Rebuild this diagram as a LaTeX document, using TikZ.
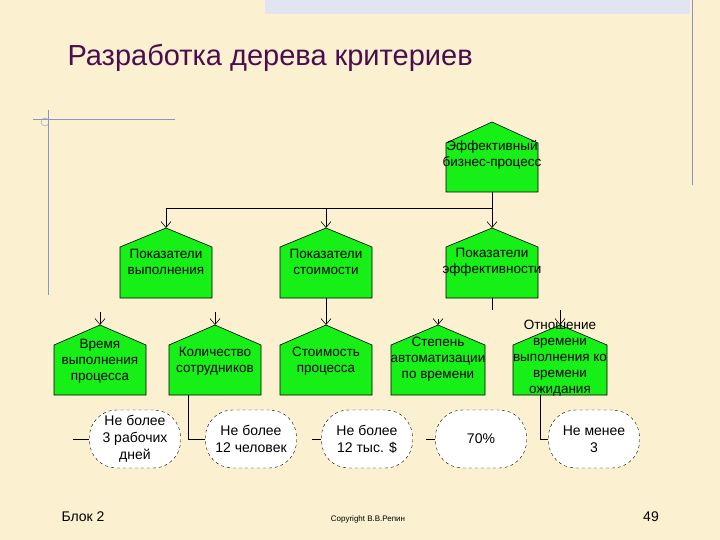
\documentclass[tikz,border=0pt]{standalone}
\usepackage{fontspec}
\setmainfont{Liberation Sans}
\usetikzlibrary{arrows.meta}
\definecolor{bg}{HTML}{FBF0CF}
\definecolor{ttl}{HTML}{4A0E4E}
\definecolor{grn}{HTML}{16F016}
\definecolor{frame}{HTML}{8A96C8}
\tikzset{x=1pt,y=-1pt,
 hs/.style={draw=black,fill=grn,line width=0.6pt},
 lbl/.style={align=center,font=\fontsize{13.5}{16}\selectfont,inner sep=0pt},
 oval/.style={draw=black,dashed,fill=white,rounded corners=27pt,minimum width=91pt,minimum height=58pt,align=center,font=\fontsize{14}{17}\selectfont,inner sep=0pt},
 con/.style={line width=0.7pt},
 arr/.style={line width=0.6pt,-{Straight Barb[length=6pt,width=10pt]}}}
% name, cx, apex, eave, bottom, halfwidth
\newcommand\house[6]{%
 \draw[hs] (#2-#6,#5) -- (#2-#6,#4) -- (#2,#3) -- (#2+#6,#4) -- (#2+#6,#5) -- cycle;
 \coordinate (#1t) at (#2,#3); \coordinate (#1b) at (#2,#5);}
\begin{document}
\begin{tikzpicture}
\fill[bg] (0,0) rectangle (720,540);
\useasboundingbox (0,0) rectangle (720,540);
\fill[frame!25] (265,0) rectangle (690,14);
\draw[frame] (692,0) -- (692,185);
\draw[frame] (33,119) -- (175,119);
\draw[frame] (48,110) -- (48,295);
\draw[frame] (45,122) circle (4);
\node[anchor=west,text=ttl,font=\fontsize{29}{32}\selectfont] (title) at (64,58) {Разработка дерева критериев};
% houses
\house{r}{492}{122}{143}{192}{46}
\node[lbl] (rl) at (492,155) {Эффективный\\бизнес-процесс};
\house{a}{166}{228}{247}{298}{46}
\node[lbl] (al) at (166,262) {Показатели\\выполнения};
\house{b}{326}{228}{247}{298}{46}
\node[lbl] (bl) at (326,262) {Показатели\\стоимости};
\house{c}{492}{228}{247}{298}{46}
\node[lbl] (cl) at (492,262) {Показатели\\эффективности};
\house{d}{100}{325}{345}{395}{46}
\node[lbl] (dl) at (100,361) {Время\\выполнения\\процесса};
\house{e}{215}{325}{345}{395}{46}
\node[lbl] (el) at (215,361) {Количество\\сотрудников};
\house{f}{326}{325}{345}{395}{46}
\node[lbl] (fl) at (326,361) {Стоимость\\процесса};
\house{g}{438}{325}{345}{395}{47}
\node[lbl] (gl) at (438,359) {Степень\\автоматизации\\по времени};
\house{h}{560}{325}{345}{395}{47}
\node[lbl] (hl) at (560,358) {Отношение\\времени\\выполнения ко\\времени\\ожидания};
% connectors
\coordinate (bus) at (492,208);
\coordinate (busl) at (166,208);
\draw[con] (rb) -- (bus) -- (busl);
\draw[arr] (busl) -- (at);
\draw[arr] (326,208) -- (bt);
\draw[arr] (bus) -- (ct);
\draw[arr] (100,312) -- (dt);
\draw[arr] (215,312) -- (et);
\draw[arr] (bb) -- (ft);
\draw[con] (cb) -- (492,310);
\draw[arr] (438,319) -- (gt);
\draw[arr] (560,310) -- (ht);
% ovals
\node[oval] (o1) at (135,439) {Не более\\3 рабочих\\дней};
\node[oval] (o2) at (251,439) {Не более\\12 человек};
\node[oval] (o3) at (367,439) {Не более\\12 тыс. \$};
\node[oval] (o4) at (481,439) {70\%};
\node[oval] (o5) at (594,439) {Не менее\\3};
\coordinate (s1) at (73,439);
\coordinate (s3) at (312,439);
\coordinate (s4) at (426,439);
\draw[con] (s1) -- (o1.west);
\draw[con] (188,395) |- (o2.west);
\draw[con] (s3) -- (o3.west);
\draw[con] (s4) -- (o4.west);
\draw[con] (540,395) |- (o5.west);
% footer
\node[anchor=west,font=\fontsize{14}{16}\selectfont] (f1) at (58,517) {Блок 2};
\node[font=\fontsize{8}{10}\selectfont] (f2) at (368,519) {Copyright В.В.Репин};
\node[font=\fontsize{14}{16}\selectfont] (f3) at (651,517) {49};
\end{tikzpicture}
\end{document}
